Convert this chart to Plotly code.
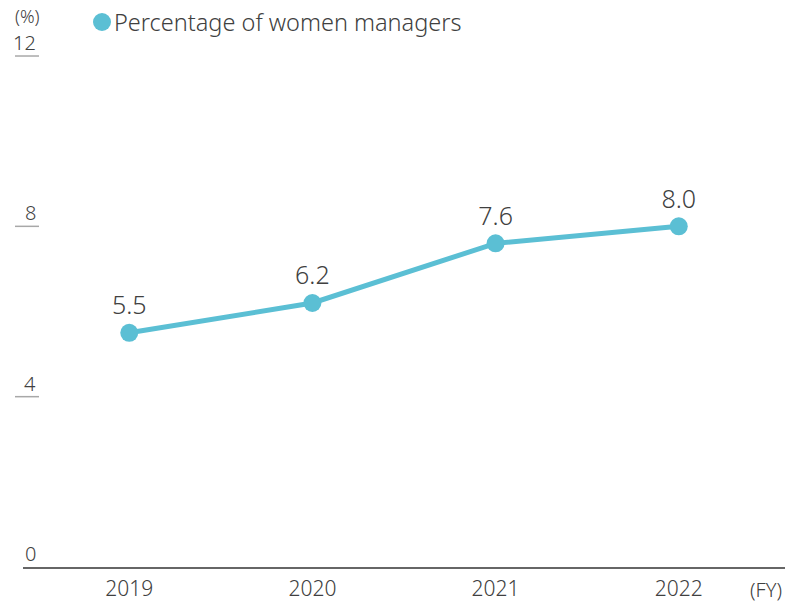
import plotly.graph_objects as go

# Fiscal years and share of women in management positions (%)
years = [2019, 2020, 2021, 2022]
women_managers_pct = [5.5, 6.2, 7.6, 8.0]
value_labels = ["5.5", "6.2", "7.6", "8.0"]

y_ticks = [0, 4, 8, 12]
y_tick_labels = ["0", "4", "8", "12"]
series_name = "Percentage of women managers"

LINE_COLOR = "#5BBFD4"
TEXT_COLOR = "#404040"
FONT = "Noto Sans"

W, H = 790, 602
L, R, T, B = 23, 5, 13, 35
plot_w = W - L - R
plot_h = H - T - B

fig = go.Figure()

fig.add_trace(go.Scatter(
    x=years,
    y=women_managers_pct,
    mode="lines+markers+text",
    name=series_name,
    line=dict(color=LINE_COLOR, width=5),
    marker=dict(color=LINE_COLOR, size=18),
    text=value_labels,
    textposition="top center",
    textfont=dict(family=FONT, size=25, color=TEXT_COLOR, weight=300),
    showlegend=False,
    cliponaxis=False,
))

def px_x(px):
    return (px - L) / plot_w

def px_y(px):
    return (H - B - px) / plot_h

shapes = []
annotations = []
for v, lab in zip(y_ticks, y_tick_labels):
    annotations.append(dict(
        x=px_x(38), xref="paper", xanchor="right",
        y=v, yref="y", yanchor="bottom", yshift=-2,
        text=lab, showarrow=False,
        font=dict(family=FONT, size=20, color=TEXT_COLOR, weight=300),
    ))
    if v != 0:
        shapes.append(dict(
            type="line", xref="paper", yref="y",
            x0=px_x(15), x1=px_x(39), y0=v, y1=v,
            line=dict(color="#a8a8a8", width=1.5),
        ))

# legend key: dot + series name
r = 9
shapes.append(dict(
    type="circle", xref="paper", yref="paper",
    x0=px_x(102 - r), x1=px_x(102 + r),
    y0=px_y(22 + r), y1=px_y(22 - r),
    fillcolor=LINE_COLOR, line=dict(width=0),
))
annotations.append(dict(
    x=px_x(112), xref="paper", xanchor="left",
    y=px_y(22), yref="paper", yanchor="middle",
    text=series_name, showarrow=False,
    font=dict(family=FONT, size=23.5, color=TEXT_COLOR, weight=300),
))

annotations.append(dict(
    x=px_x(27), xref="paper", xanchor="center",
    y=px_y(16), yref="paper", yanchor="middle",
    text="(%)", showarrow=False,
    font=dict(family=FONT, size=18, color=TEXT_COLOR, weight=300),
))
annotations.append(dict(
    x=px_x(766), xref="paper", xanchor="center",
    y=px_y(589), yref="paper", yanchor="middle",
    text="(FY)", showarrow=False,
    font=dict(family=FONT, size=20, color=TEXT_COLOR, weight=300),
))

fig.update_layout(
    width=W, height=H,
    margin=dict(l=L, r=R, t=T, b=B, autoexpand=False),
    paper_bgcolor="white",
    plot_bgcolor="white",
    font=dict(family=FONT, color=TEXT_COLOR),
    shapes=shapes,
    annotations=annotations,
    showlegend=False,
)

fig.update_xaxes(
    range=[2018.42, 2022.58],
    tickvals=years,
    ticktext=[str(y) for y in years],
    tickfont=dict(family=FONT, size=21, color=TEXT_COLOR, weight=300),
    ticklabelstandoff=2,
    automargin=False,
    showline=True, linecolor="#666666", linewidth=2,
    showgrid=False, zeroline=False, ticks="",
)
fig.update_yaxes(
    range=[0, 13.01],
    showticklabels=False,
    automargin=False,
    showgrid=False, zeroline=False, showline=False, ticks="",
)

fig.write_html("out.html")
